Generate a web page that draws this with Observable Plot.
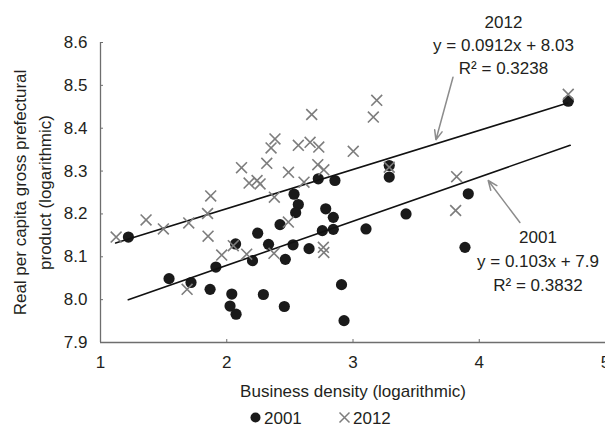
<!DOCTYPE html>
<html>
<head>
<meta charset="utf-8">
<script src="https://cdn.jsdelivr.net/npm/d3@7"></script>
<script src="https://cdn.jsdelivr.net/npm/@observablehq/plot@0.6"></script>
<style>
  html, body { margin: 0; padding: 0; background: #fff; }
  #wrap { width: 605px; height: 428px; position: relative; overflow: hidden;
          font-family: "Liberation Sans", Arial, Helvetica, sans-serif; color: #231f20; }
  .legend { position: relative; width: 605px; height: 24px; font-size: 17px; }
  .legend .item { position: absolute; top: 3px; height: 24px; line-height: 24px; white-space: nowrap; }
  .legend svg { vertical-align: middle; margin-right: 2px; position: relative; top: -2px; }
</style>
</head>
<body>
<div id="wrap"><div id="chart"></div><div class="legend" id="legend"></div></div>
<script>
// ---- Data ----
// 2001 prefectures: business density (log) and real per-capita GPP (log)
const x2001 = [2.725, 2.857, 2.533, 2.567, 2.546, 2.422, 2.245, 2.784, 2.844, 2.757,
               2.844, 2.070, 2.331, 2.525, 2.652, 2.204, 2.464, 1.914, 1.717, 1.868,
               2.040, 2.290, 2.026, 2.074, 2.456, 2.909, 2.929, 1.221, 1.543, 3.103,
               3.420, 3.913, 3.887, 3.287, 3.287, 4.705];
const y2001 = [8.282, 8.278, 8.246, 8.222, 8.203, 8.175, 8.155, 8.212, 8.192, 8.161,
               8.164, 8.130, 8.129, 8.128, 8.119, 8.091, 8.094, 8.076, 8.040, 8.024,
               8.013, 8.012, 7.985, 7.966, 7.984, 8.035, 7.951, 8.146, 8.049, 8.165,
               8.200, 8.247, 8.122, 8.313, 8.286, 8.463];
// 2012 prefectures
const x2012 = [2.673, 2.382, 2.351, 2.567, 2.660, 2.729, 3.002, 2.117, 2.317, 2.489,
               2.721, 2.769, 2.177, 2.240, 2.264, 2.612, 1.873, 2.377, 1.848, 1.699,
               2.488, 1.852, 1.960, 2.052, 2.158, 2.374, 2.765, 2.769, 1.686, 1.124,
               1.361, 1.498, 3.188, 3.161, 4.705, 3.287, 3.821, 3.813];
const y2012 = [8.432, 8.375, 8.354, 8.360, 8.367, 8.356, 8.346, 8.308, 8.318, 8.297,
               8.315, 8.303, 8.272, 8.278, 8.270, 8.274, 8.242, 8.239, 8.201, 8.179,
               8.181, 8.148, 8.104, 8.126, 8.106, 8.108, 8.122, 8.110, 8.024, 8.146,
               8.186, 8.165, 8.465, 8.426, 8.479, 8.309, 8.287, 8.208];

// Trend lines (as drawn)
const fitYears      = ["2012", "2001"];
const fitSlopes     = [0.0912, 0.103];
const fitIntercepts = [8.03, 7.874];
const fitXStart     = [1.12, 1.22];
const fitXEnd       = [4.70, 4.72];

// Annotation labels
const noteTexts = ["2012\ny = 0.0912x + 8.03\nR\u00b2 = 0.3238",
                   "2001\ny = 0.103x + 7.9\nR\u00b2 = 0.3832"];
const noteX = [4.192, 4.465];
const noteY = [8.597, 8.094];
const noteLineHeight = [1.33, 1.42];
// Annotation arrows (from label toward line)
const arrowX1 = [3.792, 4.322];
const arrowY1 = [8.519, 8.180];
const arrowX2 = [3.657, 4.071];
const arrowY2 = [8.373, 8.278];

// Axes
const xTicks = [1, 2, 3, 4, 5];
const yTicks = [7.9, 8.0, 8.1, 8.2, 8.3, 8.4, 8.5, 8.6];
const xLabel = "Business density (logarithmic)";
const yLabel = "Real per capita gross prefectural\nproduct (logarithmic)";
const seriesNames = ["2001", "2012"];

// ---- Build tables ----
const pts2001 = x2001.map((x, i) => ({x, y: y2001[i]}));
const pts2012 = x2012.map((x, i) => ({x, y: y2012[i]}));
const fitLines = fitYears.flatMap((yr, i) => [fitXStart[i], fitXEnd[i]].map(x => ({
  year: yr, x, y: fitSlopes[i] * x + fitIntercepts[i]
})));
const notes = noteTexts.map((t, i) => ({text: t, x: noteX[i], y: noteY[i], lh: noteLineHeight[i]}));
const arrows = arrowX1.map((x1, i) => ({x1, y1: arrowY1[i], x2: arrowX2[i], y2: arrowY2[i]}));

const W = 605, H = 404, ML = 100, MR = 0, MT = 42, MB = 62;
const ink = "#231f20", axisGray = "#6e6e6e", crossGray = "#7d7d7d";

const chart = Plot.plot({
  width: W, height: H,
  marginLeft: ML, marginRight: MR, marginTop: MT, marginBottom: MB,
  style: {fontFamily: '"Liberation Sans", Arial, Helvetica, sans-serif', fontSize: "17px", color: ink, background: "#fff", overflow: "visible"},
  x: {domain: [1, 5]},
  y: {domain: [7.9, 8.6]},
  marks: [
    // axes (labels only; lines and inward ticks drawn below)
    Plot.axisX({ticks: xTicks, tickSize: 0, tickPadding: 13, tickFormat: d3.format("d"), label: null, fill: ink}),
    Plot.axisY({ticks: yTicks, tickSize: 0, tickPadding: 13, tickFormat: d3.format(".1f"), label: null, fill: ink}),
    Plot.tickX(xTicks, {x: d => d, insetTop: H - MT - MB - 3, stroke: axisGray, strokeWidth: 1}),
    Plot.tickY(yTicks, {y: d => d, insetRight: W - ML - MR - 3, stroke: axisGray, strokeWidth: 1}),
    Plot.ruleX([1], {stroke: axisGray, strokeWidth: 1.3}),
    Plot.ruleY([7.9], {stroke: axisGray, strokeWidth: 1.3}),
    // axis titles
    Plot.text([xLabel], {frameAnchor: "bottom", dy: 49, lineAnchor: "middle", fill: ink, fontSize: 17}),
    Plot.text([yLabel], {frameAnchor: "left", dx: -70, rotate: -90, textAnchor: "middle", lineAnchor: "middle", lineHeight: 1.47, fill: ink, fontSize: 17}),
    // 2001 points
    Plot.dot(pts2001, {x: "x", y: "y", r: 5.6, fill: "#1a1a1a", stroke: "none"}),
    // trend lines
    Plot.line(fitLines, {x: "x", y: "y", z: "year", stroke: "#111", strokeWidth: 1.6}),
    // 2012 points
    Plot.dot(pts2012, {x: "x", y: "y", r: 5, symbol: "times", stroke: crossGray, strokeWidth: 1.6}),
    // annotations
    Plot.arrow(arrows, {x1: "x1", y1: "y1", x2: "x2", y2: "y2", stroke: "#8c8c8c", strokeWidth: 1.5, headLength: 10, headAngle: 45}),
    ...notes.map(n => Plot.text([n], {x: "x", y: "y", text: "text", textAnchor: "middle", lineAnchor: "middle", lineHeight: n.lh, fill: ink, fontSize: 17}))
  ]
});
document.getElementById("chart").appendChild(chart);

// ---- Legend (below the SVG) ----
const legend = d3.select("#legend");
const items = [
  {name: seriesNames[0], left: 249, kind: "dot"},
  {name: seriesNames[1], left: 338, kind: "times"}
];
items.forEach(it => {
  const span = legend.append("span").attr("class", "item").style("left", it.left + "px");
  const s = span.append("svg").attr("width", 13).attr("height", 13).attr("viewBox", "-6.5 -6.5 13 13");
  if (it.kind === "dot") s.append("circle").attr("r", 5).attr("fill", "#1a1a1a");
  else s.append("path").attr("d", "M-5,-5L5,5M-5,5L5,-5").attr("stroke", crossGray).attr("stroke-width", 1.5).attr("fill", "none");
  span.append("span").text(it.name);
});
</script>
</body>
</html>
